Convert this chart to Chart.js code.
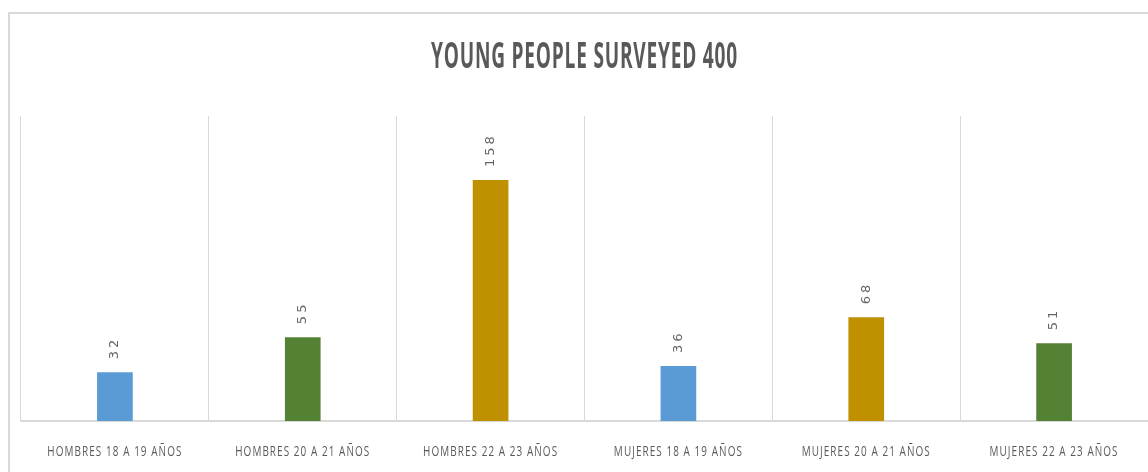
<!DOCTYPE html>
<html>
<head>
<meta charset="utf-8"/>
<title>Young people surveyed</title>
<script src="https://cdn.jsdelivr.net/npm/chart.js@4/dist/chart.umd.min.js"></script>
<style>
 html, body { margin: 0; padding: 0; background: #fff; }
 #wrap { width: 1148px; height: 472px; position: relative; }
</style>
</head>
<body>
<div id="wrap"><canvas id="chart"></canvas></div>
<script>
var chartTitle = 'YOUNG PEOPLE SURVEYED 400';
var categories = ['HOMBRES 18 A 19 AÑOS', 'HOMBRES 20 A 21 AÑOS', 'HOMBRES 22 A 23 AÑOS',
                  'MUJERES 18 A 19 AÑOS', 'MUJERES 20 A 21 AÑOS', 'MUJERES 22 A 23 AÑOS'];
var counts = [32, 55, 158, 36, 68, 51];
var barColors = ['#5b9bd5', '#548235', '#bf9000', '#5b9bd5', '#bf9000', '#548235'];

// condensed look: draw Open Sans squeezed horizontally
function narrowText(ctx, text, x, y, sx){
  ctx.save();
  ctx.translate(x, y);
  ctx.scale(sx, 1);
  ctx.fillText(text, 0, 0);
  ctx.restore();
}

var extras = {
  id: 'extras',
  beforeDraw: function(chart){
    var ctx = chart.ctx;
    ctx.save();
    ctx.strokeStyle = '#d9d9d9';
    ctx.lineWidth = 2;
    ctx.beginPath();
    ctx.moveTo(9, chart.height + 5);
    ctx.lineTo(9, 13);
    ctx.lineTo(chart.width + 5, 13);
    ctx.stroke();
    ctx.restore();
  },
  afterDraw: function(chart){
    var ctx = chart.ctx;
    var area = chart.chartArea;
    var xs = chart.scales.x;

    ctx.save();
    ctx.fillStyle = '#595959';
    ctx.textAlign = 'center';
    ctx.textBaseline = 'middle';
    ctx.font = 'bold 36px "Open Sans", sans-serif';
    ctx.letterSpacing = '1.5px';
    narrowText(ctx, chartTitle, (area.left + area.right) / 2, 58, 0.53);

    ctx.font = '14px "Open Sans", sans-serif';
    ctx.letterSpacing = '1.5px';
    categories.forEach(function(c, i){
      narrowText(ctx, c, xs.getPixelForTick(i), area.bottom + 31, 0.71);
    });
    ctx.restore();

    var meta = chart.getDatasetMeta(0);
    ctx.save();
    ctx.fillStyle = '#666666';
    ctx.font = '13px "DejaVu Sans", sans-serif';
    ctx.letterSpacing = '3px';
    ctx.textAlign = 'left';
    ctx.textBaseline = 'middle';
    meta.data.forEach(function(bar, i){
      ctx.save();
      ctx.translate(bar.x, bar.y - 13);
      ctx.rotate(-Math.PI / 2);
      ctx.fillText(String(counts[i]), 0, 0);
      ctx.restore();
    });
    ctx.restore();
  }
};

new Chart(document.getElementById('chart'), {
  type: 'bar',
  data: {
    labels: categories,
    datasets: [{
      data: counts,
      backgroundColor: barColors,
      categoryPercentage: 1,
      barPercentage: 0.19
    }]
  },
  options: {
    responsive: true,
    maintainAspectRatio: false,
    animation: false,
    layout: { padding: { left: 21, right: 0, top: 116, bottom: 51 } },
    plugins: { legend: { display: false }, tooltip: { enabled: false } },
    scales: {
      x: {
        grid: { color: '#d9d9d9', drawTicks: false, offset: true },
        border: { color: '#d9d9d9', width: 2 },
        ticks: { display: false }
      },
      y: { display: false, min: 0, max: 200 }
    }
  },
  plugins: [extras]
});
</script>
</body>
</html>
